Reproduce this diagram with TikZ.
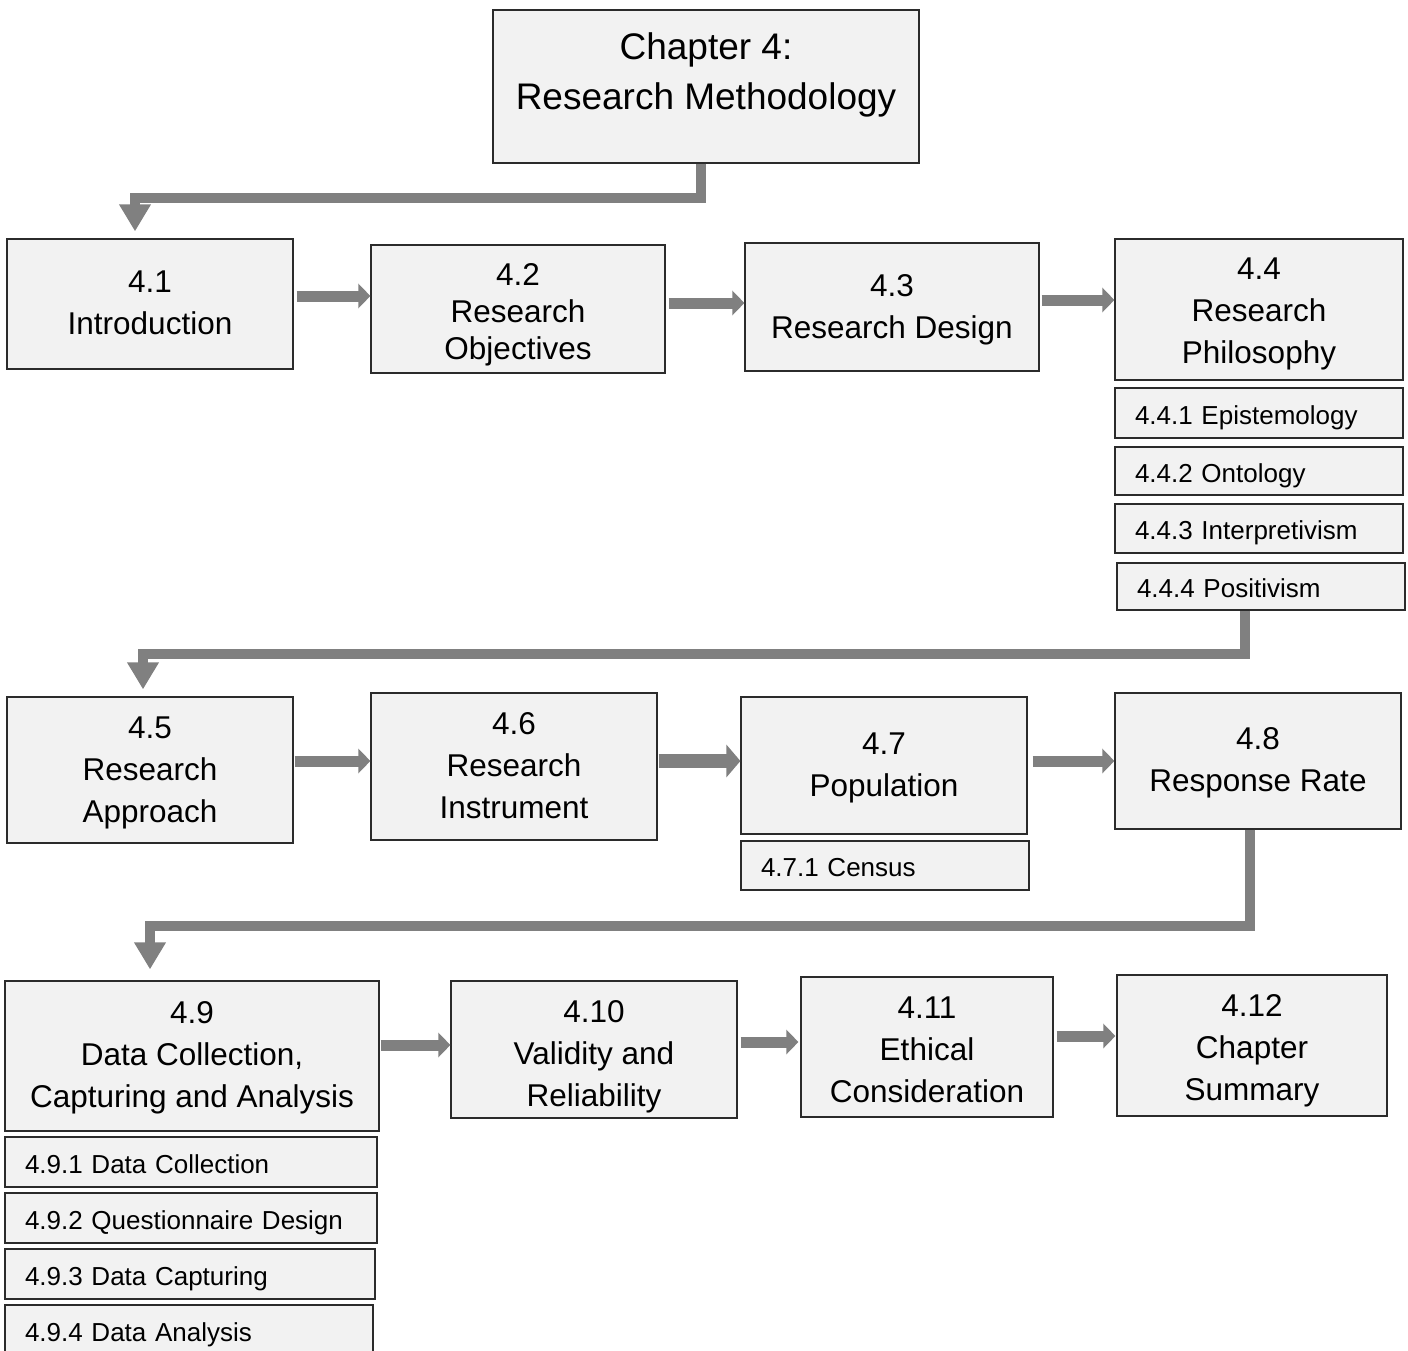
\documentclass[tikz,border=0pt]{standalone}
\usepackage{fontspec}
\setmainfont{Liberation Sans}
\usetikzlibrary{arrows.meta}
\definecolor{boxfill}{HTML}{F2F2F2}
\definecolor{arrowgray}{HTML}{808080}
\definecolor{edgecol}{HTML}{2B2B2B}
\tikzset{
  mainbox/.style={draw=edgecol, fill=boxfill, line width=1.2pt, inner sep=0pt},
  mtext/.style={align=center, inner sep=0pt, font=\fontsize{31.5}{42}\selectfont},
  subbox/.style={draw=edgecol, fill=boxfill, line width=1.2pt, inner ysep=0pt, inner xsep=20pt, align=left,
    text height=22pt, text depth=0pt, font=\fontsize{26}{30}\selectfont},
  harrow/.style={draw=arrowgray, line width=11pt, -{Triangle[length=12pt,width=24pt]}},
  elbow/.style={draw=arrowgray, line width=10pt, line join=miter, -{Triangle[length=27pt,width=30pt]}}
}
\begin{document}
\begin{tikzpicture}[x=1pt,y=-1pt]
\useasboundingbox (0,0) rectangle (1408,1351);
% title
\node[mainbox, minimum width=426pt, minimum height=153pt] (chap) at (706,86.5) {};
\node[mtext, font=\fontsize{37}{50}\selectfont] (chaptxt) at (706,75) {Chapter 4:\\Research Methodology};
% row 1
\node[mainbox, minimum width=286pt, minimum height=130pt] (n41) at (150,304) {};
\node[mtext] (t41) at (150,303) {4.1\\Introduction};
\node[mainbox, minimum width=294pt, minimum height=128pt] (n42) at (518,309) {};
\node[mtext, font=\fontsize{31.5}{37}\selectfont] (t42) at (518,315) {4.2\\Research\\Objectives};
\node[mainbox, minimum width=294pt, minimum height=128pt] (n43) at (892,307) {};
\node[mtext] (t43) at (892,310) {4.3\\Research Design};
\node[mainbox, minimum width=288pt, minimum height=141pt] (n44) at (1259,309.5) {};
\node[mtext] (t44) at (1259,314) {4.4\\Research\\Philosophy};
\node[subbox, text width=248pt, minimum height=50pt] (n441) at (1259,413) {4.4.1 Epistemology};
\node[subbox, text width=248pt, minimum height=48pt] (n442) at (1259,471) {4.4.2 Ontology};
\node[subbox, text width=248pt, minimum height=49pt] (n443) at (1259,528.5) {4.4.3 Interpretivism};
\node[subbox, text width=248pt, minimum height=47pt] (n444) at (1261,586.5) {4.4.4 Positivism};
% row 2
\node[mainbox, minimum width=286pt, minimum height=146pt] (n45) at (150,770) {};
\node[mtext] (t45) at (150,772.5) {4.5\\Research\\Approach};
\node[mainbox, minimum width=286pt, minimum height=147pt] (n46) at (514,766.5) {};
\node[mtext] (t46) at (514,765.5) {4.6\\Research\\Instrument};
\node[mainbox, minimum width=286pt, minimum height=137pt] (n47) at (884,765.5) {};
\node[mtext] (t47) at (884,767.5) {4.7\\Population};
\node[subbox, text width=248pt, minimum height=49pt] (n471) at (885,865.5) {4.7.1 Census};
\node[mainbox, minimum width=286pt, minimum height=136pt] (n48) at (1258,761) {};
\node[mtext] (t48) at (1258,763) {4.8\\Response Rate};
% row 3
\node[mainbox, minimum width=374pt, minimum height=150pt] (n49) at (192,1056) {};
\node[mtext] (t49) at (192,1058) {4.9\\Data Collection,\\Capturing and Analysis};
\node[subbox, text width=332pt, minimum height=50pt] (n491) at (191,1162) {4.9.1 Data Collection};
\node[subbox, text width=332pt, minimum height=50pt] (n492) at (191,1218) {4.9.2 Questionnaire Design};
\node[subbox, text width=330pt, minimum height=50pt] (n493) at (190,1274) {4.9.3 Data Capturing};
\node[subbox, text width=328pt, minimum height=50pt] (n494) at (189,1330) {4.9.4 Data Analysis};
\node[mainbox, minimum width=286pt, minimum height=137pt] (n410) at (594,1049.5) {};
\node[mtext] (t410) at (594,1056.5) {4.10\\Validity and\\Reliability};
\node[mainbox, minimum width=252pt, minimum height=140pt] (n411) at (927,1047) {};
\node[mtext] (t411) at (927,1050) {4.11\\Ethical\\Consideration};
\node[mainbox, minimum width=270pt, minimum height=141pt] (n412) at (1252,1045.5) {};
\node[mtext] (t412) at (1252,1050.5) {4.12\\Chapter\\Summary};
% elbow connectors
\draw[elbow] ([xshift=-5pt]chap.south) -- ++(0,34) -| ([xshift=-15pt,yshift=7pt]n41.north);
\draw[elbow] ([xshift=-16pt]n444.south) -- ++(0,43) -| ([xshift=-7pt,yshift=7pt]n45.north);
\draw[elbow] ([xshift=-8pt]n48.south) -- ++(0,96) -| ([xshift=-42pt,yshift=11pt]n49.north);
% horizontal arrows
\draw[harrow] ([xshift=3pt,yshift=8pt]n41.east) -- ([yshift=13pt]n42.west);
\draw[harrow] ([xshift=3pt,yshift=6pt]n42.east) -- ([yshift=4pt]n43.west);
\draw[harrow] ([xshift=2pt,yshift=7pt]n43.east) -- ([yshift=9.5pt]n44.west);
\draw[harrow] ([xshift=1pt,yshift=9pt]n45.east) -- ([yshift=5.5pt]n46.west);
\draw[harrow, line width=14pt, -{Triangle[length=14pt,width=32pt]}] ([xshift=1pt,yshift=5.5pt]n46.east) -- ([yshift=4.5pt]n47.west);
\draw[harrow] ([xshift=5pt,yshift=4.5pt]n47.east) -- (n48.west);
\draw[harrow] ([xshift=1pt,yshift=11pt]n49.east) -- ([yshift=4.5pt]n410.west);
\draw[harrow] ([xshift=3pt,yshift=7.5pt]n410.east) -- ([xshift=-2pt,yshift=5pt]n411.west);
\draw[harrow] ([xshift=3pt,yshift=11pt]n411.east) -- ([xshift=-1pt,yshift=9.5pt]n412.west);
\end{tikzpicture}
\end{document}
